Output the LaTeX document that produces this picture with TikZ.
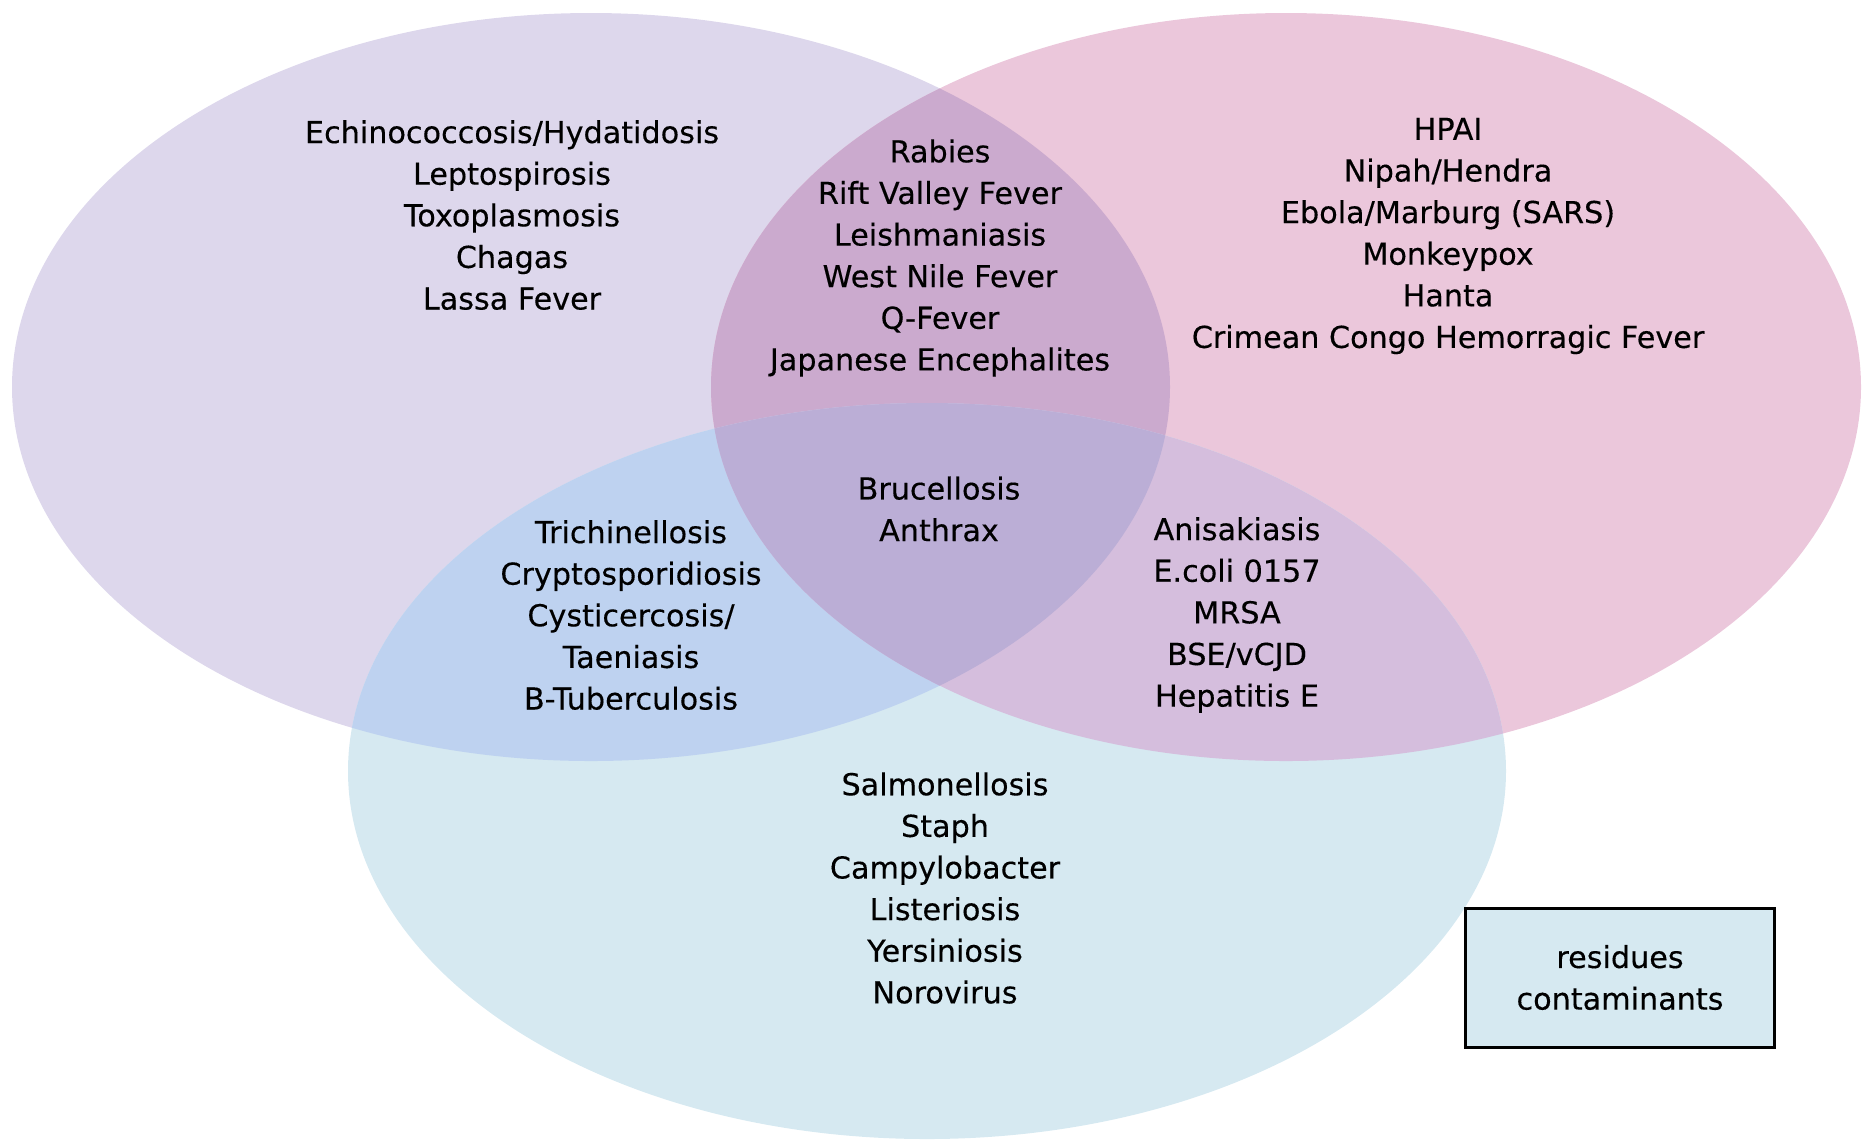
\documentclass[tikz,border=0pt]{standalone}
\usepackage{fontspec}
\setmainfont{DejaVu Sans}
\newfontfamily\vennfont[FakeBold=0.3]{DejaVu Sans}
\usepackage{tikz}
\usetikzlibrary{positioning,calc}

\definecolor{purpleonly}{RGB}{221,215,236}
\definecolor{pinkonly}{RGB}{235,199,219}
\definecolor{blueonly}{RGB}{214,233,241}
\definecolor{purplepink}{RGB}{203,170,206}
\definecolor{purpleblue}{RGB}{190,210,240}
\definecolor{pinkblue}{RGB}{213,190,221}
\definecolor{allthree}{RGB}{187,174,214}

\begin{document}
\begin{tikzpicture}
\tikzstyle{every node}+=[inner sep=0pt]
\tikzstyle{disease}=[align=center,font=\vennfont\fontsize{8.6}{11.84}\selectfont]
\tikzstyle{residuebox}=[draw=black,line width=0.85pt,fill=blueonly,minimum width=3.09cm,minimum height=1.39cm,align=center,font=\vennfont\fontsize{8.6}{11.84}\selectfont]
\useasboundingbox (0,0) rectangle (18.62,-11.42);
% the three sets
\fill [purpleonly] (5.91,-3.87) ellipse (5.79 and 3.74);
\fill [pinkonly] (12.86,-3.87) ellipse (5.75 and 3.74);
\fill [blueonly] (9.27,-7.71) ellipse (5.79 and 3.68);
% overlaps
\begin{scope}
\clip (5.91,-3.87) ellipse (5.79 and 3.74);
\fill [purplepink] (12.86,-3.87) ellipse (5.75 and 3.74);
\fill [purpleblue] (9.27,-7.71) ellipse (5.79 and 3.68);
\end{scope}
\begin{scope}
\clip (12.86,-3.87) ellipse (5.75 and 3.74);
\fill [pinkblue] (9.27,-7.71) ellipse (5.79 and 3.68);
\clip (5.91,-3.87) ellipse (5.79 and 3.74);
\fill [allthree] (9.27,-7.71) ellipse (5.79 and 3.68);
\end{scope}
% labels
\node [disease] (wildlife) at (5.12,-2.15) {Echinococcosis/Hydatidosis\\Leptospirosis\\Toxoplasmosis\\Chagas\\Lassa Fever};
\node [disease] (vector) at (9.40,-2.58) {Rabies\\Rift Valley Fever\\Leishmaniasis\\West Nile Fever\\Q-Fever\\Japanese Encephalites};
\node [disease] (emerging) at (14.48,-2.36) {HPAI\\Nipah/Hendra\\Ebola/Marburg (SARS)\\Monkeypox\\Hanta\\Crimean Congo Hemorragic Fever};
\node [disease] (core) at (9.39,-5.09) {Brucellosis\\Anthrax};
\node [disease] (livestock) at (6.31,-6.15) {Trichinellosis\\Cryptosporidiosis\\Cysticercosis/\\Taeniasis\\B-Tuberculosis};
\node [disease] (foodanimal) at (12.37,-6.15) {Anisakiasis\\E.coli 0157\\MRSA\\BSE/vCJD\\Hepatitis E};
\node [disease] (foodborne) at (9.45,-8.88) {Salmonellosis\\Staph\\Campylobacter\\Listeriosis\\Yersiniosis\\Norovirus};
\node [residuebox] (residues) at (16.20,-9.775) {residues\\contaminants};
\end{tikzpicture}
\end{document}
